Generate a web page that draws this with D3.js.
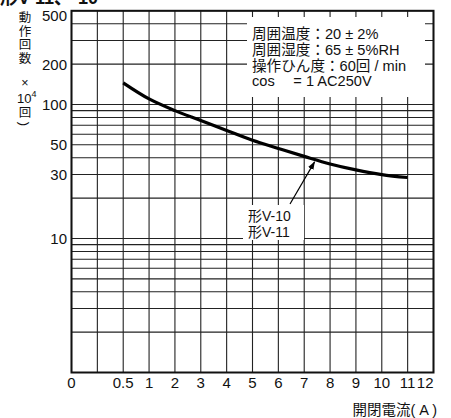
<!DOCTYPE html>
<html>
<head>
<meta charset="utf-8">
<script src="https://cdn.jsdelivr.net/npm/d3@7"></script>
<style>
  body { margin: 0; background: #fff; }
  svg { display: block; }
</style>
</head>
<body>
<svg width="451" height="418"></svg>
<script>
// data
const current = [0.5, 1, 2, 3, 4, 5, 6, 7, 8, 9, 10, 11];
const operations = [145, 110, 90, 76, 64, 54, 47, 41, 36, 32.5, 30, 28.5];

const xGrid = [0, 0.25, 0.5, 1, 2, 3, 4, 5, 6, 7, 8, 9, 10, 11, 12];
const xTicks = [0, 0.5, 1, 2, 3, 4, 5, 6, 7, 8, 9, 10, 11, 12];
const yGrid = [1, 2, 3, 4, 5, 6, 7, 8, 9, 10, 20, 30, 40, 50, 60, 70, 80, 90, 100, 200, 300, 400, 500];
const yTicks = [500, 200, 100, 50, 30, 10];

const conditions = [
  "周囲温度：20 ± 2%",
  "周囲湿度：65 ± 5%RH",
  "操作ひん度：60回 / min",
  "cos　 = 1  AC250V"
];
const seriesLabel = ["形V-10", "形V-11"];

const font = "Liberation Sans, Arial, 'Noto Sans CJK JP', sans-serif";
const svg = d3.select("svg");

const pLeft = 71.5, pRight = 433.5, pTop = 10.8, pBottom = 372.5;
const step = (pRight - pLeft) / 14;

// uneven axis: 0 .. 0.5 takes two cells, then one cell per ampere
const x = d3.scaleLinear()
   .domain([0, 0.5, 1, 12])
   .range([pLeft, pLeft + 2 * step, pLeft + 3 * step, pRight]);
const y = d3.scaleLog().domain([1, 500]).range([pBottom, pTop]);

// grid
svg.append("g")
   .selectAll("line")
   .data(yGrid)
   .join("line")
   .attr("x1", pLeft).attr("x2", pRight)
   .attr("y1", d => y(d)).attr("y2", d => y(d))
   .attr("stroke", "#222")
   .attr("stroke-width", 1.1);

svg.append("g")
   .selectAll("line")
   .data(xGrid)
   .join("line")
   .attr("x1", d => x(d)).attr("x2", d => x(d))
   .attr("y1", pTop).attr("y2", pBottom)
   .attr("stroke", "#222")
   .attr("stroke-width", 1.1);

// conditions box (white, covers the grid)
svg.append("rect")
   .attr("x", 247).attr("y", 17)
   .attr("width", 178).attr("height", 80)
   .attr("fill", "#fff");

svg.append("g")
   .selectAll("text")
   .data(conditions)
   .join("text")
   .attr("x", 252)
   .attr("y", (d, i) => 39 + i * 15.8)
   .attr("font-size", "14.6px")
   .attr("font-family", font)
   .attr("fill", "#111")
   .text(d => d);

// frame
svg.append("rect")
   .attr("x", pLeft).attr("y", pTop)
   .attr("width", pRight - pLeft).attr("height", pBottom - pTop)
   .attr("fill", "none")
   .attr("stroke", "#111")
   .attr("stroke-width", 2);

// curve
const line = d3.line()
   .x(d => x(d[0]))
   .y(d => y(d[1]))
   .curve(d3.curveCatmullRom);

svg.append("path")
   .datum(current.map((c, i) => [c, operations[i]]))
   .attr("d", line)
   .attr("fill", "none")
   .attr("stroke", "#000")
   .attr("stroke-width", 3.2);

// series label with arrow
svg.append("defs").append("marker")
   .attr("id", "arrow")
   .attr("viewBox", "0 0 10 10")
   .attr("refX", 9).attr("refY", 5)
   .attr("markerWidth", 7).attr("markerHeight", 7)
   .attr("orient", "auto")
   .append("path")
   .attr("d", "M 0 1.5 L 10 5 L 0 8.5 Z")
   .attr("fill", "#000");

svg.append("rect")
   .attr("x", 243).attr("y", 205)
   .attr("width", 61).attr("height", 35)
   .attr("fill", "#fff");

svg.append("line")
   .attr("x1", 290).attr("y1", 204)
   .attr("x2", x(7.4)).attr("y2", y(38.6) + 2)
   .attr("stroke", "#000")
   .attr("stroke-width", 1.2)
   .attr("marker-end", "url(#arrow)");

svg.append("g")
   .selectAll("text")
   .data(seriesLabel)
   .join("text")
   .attr("x", 248)
   .attr("y", (d, i) => 221 + i * 16)
   .attr("font-size", "14px")
   .attr("font-family", font)
   .attr("fill", "#111")
   .text(d => d);

// tick labels
svg.append("g")
   .selectAll("text")
   .data(xTicks)
   .join("text")
   .attr("x", d => x(d))
   .attr("y", 388)
   .attr("text-anchor", d => d === 12 ? "end" : "middle")
   .attr("font-size", "15px")
   .attr("font-family", font)
   .attr("fill", "#111")
   .text(d => d);

svg.append("g")
   .selectAll("text")
   .data(yTicks)
   .join("text")
   .attr("x", 67)
   .attr("y", d => y(d) + (d === 500 ? 5 : 0))
   .attr("dy", "0.36em")
   .attr("text-anchor", "end")
   .attr("font-size", "15px")
   .attr("font-family", font)
   .attr("fill", "#111")
   .text(d => d);

// axis titles
svg.append("text")
   .attr("x", 437).attr("y", 415)
   .attr("text-anchor", "end")
   .attr("font-size", "14.5px")
   .attr("font-family", font)
   .attr("fill", "#111")
   .text("開閉電流( A )");

const yTitle = [
  { t: "動", y: 22 }, { t: "作", y: 35.5 }, { t: "回", y: 49 }, { t: "数", y: 62.5 },
  { t: "×", y: 87 }, { t: "回", y: 117 }
];
svg.append("g")
   .selectAll("text")
   .data(yTitle)
   .join("text")
   .attr("x", 25).attr("y", d => d.y)
   .attr("text-anchor", "middle")
   .attr("font-size", "12.5px")
   .attr("font-family", font)
   .attr("fill", "#111")
   .text(d => d.t);

const pow = svg.append("text")
   .attr("x", 17).attr("y", 103)
   .attr("font-size", "13px")
   .attr("font-family", font)
   .attr("fill", "#111");
pow.append("tspan").text("10");
pow.append("tspan").attr("font-size", "9px").attr("dy", -6).text("4");

// closing paren, turned for vertical writing
svg.append("text")
   .attr("transform", "translate(25,124) rotate(90)")
   .attr("text-anchor", "middle")
   .attr("dy", "0.35em")
   .attr("font-size", "13px")
   .attr("font-family", font)
   .attr("fill", "#111")
   .text(")");

// title, cut off at the top edge
svg.append("text")
   .attr("x", 0).attr("y", 4)
   .attr("font-size", "18px")
   .attr("font-weight", "bold")
   .attr("font-family", font)
   .attr("fill", "#111")
   .text("形V-11、-10");
</script>
</body>
</html>
